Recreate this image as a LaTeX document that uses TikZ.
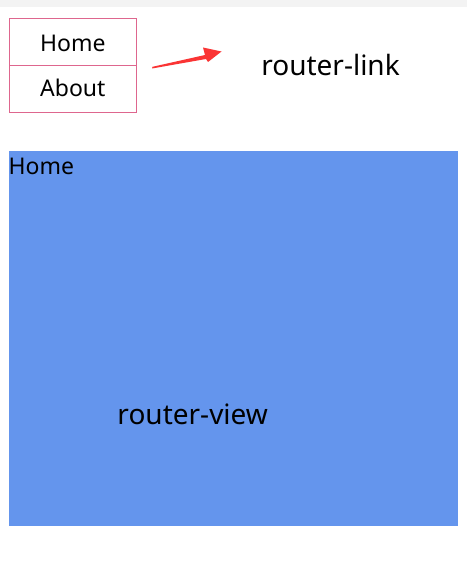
\documentclass[tikz,border=0pt]{standalone}
\usepackage{fontspec}
\setmainfont{Noto Sans}
\definecolor{linkpink}{RGB}{222,102,142}
\definecolor{arrowred}{RGB}{250,52,52}
\definecolor{viewblue}{RGB}{100,149,237}
\definecolor{topgray}{RGB}{243,243,243}
\begin{document}
\begin{tikzpicture}[x=1pt,y=-1pt,
  linkbox/.style={draw=linkpink,line width=1pt,minimum width=127.5pt,minimum height=47pt,inner sep=0pt,outer sep=0pt},
  smalltext/.style={font=\fontsize{23}{27}\selectfont,inner sep=0pt,anchor=base},
  bigtext/.style={font=\fontsize{28}{32}\selectfont,inner sep=0pt,anchor=base}]
\useasboundingbox (0,0) rectangle (467,561);
\fill[white] (0,0) rectangle (467,561);
\fill[topgray] (0,0) rectangle (467,7);
% nav boxes
\node[linkbox] (homebox) at (72.75,42) {};
\node[linkbox] (aboutbox) at (72.75,89) {};
\node[smalltext] (hometxt) at (72.8,51.7) {Home};
\node[smalltext] (abouttxt) at (72.8,96.7) {About};
% arrow
\fill[arrowred] (152,68.5) -- (152.5,66.8) -- (205,55) -- (203,47.5) -- (221.5,51.5) -- (208,62) -- (206,59) -- cycle;
\node[bigtext] (linktxt) at (330.5,76) {router-link};
% router view
\node[fill=viewblue,minimum width=449pt,minimum height=375pt,inner sep=0pt,outer sep=0pt] (view) at (233.5,338.5) {};
\node[smalltext,anchor=base west] (viewhome) at (8.5,175) {Home};
\node[bigtext] (viewtxt) at (192.7,424.3) {router-view};
\end{tikzpicture}
\end{document}
